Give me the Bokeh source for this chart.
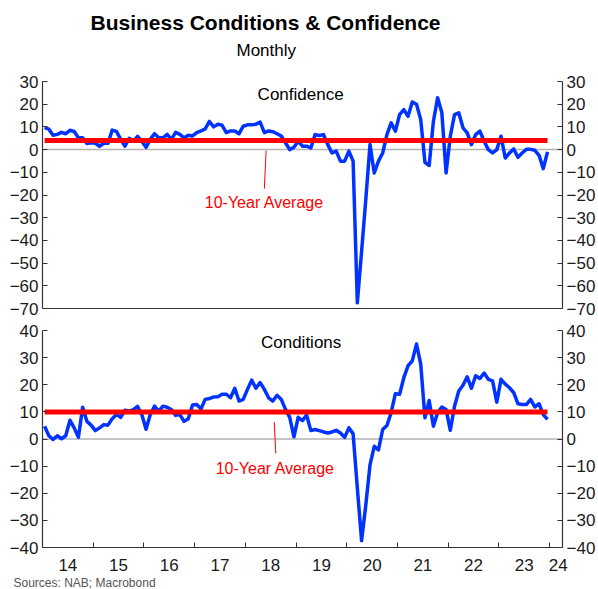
import pandas as pd
from bokeh.plotting import figure
from bokeh.models import Range1d, LinearAxis, FixedTicker, Span, Label, Title
from bokeh.layouts import column
from bokeh.embed import file_html
from bokeh.resources import INLINE

# ---------------- data ----------------
months = pd.date_range("2014-01-01", "2023-12-01", freq="MS")

confidence = [
    9.7, 9, 6.3, 6.7, 7.6, 7, 8.5, 8, 5.2, 5.2,
    2.7, 3, 2.8, 1.5, 2.8, 2.8, 8.6, 8, 4.5, 1.5,
    5, 3.7, 5.8, 3.7, 1, 4.5, 7, 5.2, 5.2, 6.7,
    4.5, 7.6, 6.7, 5.2, 6.3, 6, 7.5, 8.2, 9.1, 12.4,
    10, 11.2, 10.7, 7.5, 8.2, 8.2, 7, 10.3, 10.9, 10.9,
    11.2, 12.1, 7.5, 8.2, 7.9, 7, 6, 3, 0, 1,
    3.7, 1.5, 1.5, 0.7, 6.6, 6.2, 6.6, 2.2, -1.5, -0.7,
    -5.1, -5.1, -0.7, -5.1, -67.5, -45, -22, 2.2, -10.3, -5.1,
    -1.5, 6.6, 11.8, 8.1, 15.4, 17.6, 14.7, 21, 20, 13.2,
    -5.6, -7, 12.5, 22.8, 16.2, -10.3, 5.9, 15.4, 16.2, 9.6,
    7.4, 2.2, 6.6, 8.1, 3.7, 0, -1.5, 0, 5.9, -3.7,
    -1.5, 0.3, -3.4, -1.5, 0.1, 0.1, -0.3, -2.5, -8.4, -1,
]

conditions = [
    4.7, 1.2, -0.2, 1.2, 0.1, 1.2, 6.9, 4.1, 0.6, 11.7,
    6.5, 5.1, 3.1, 4.1, 5.3, 5.1, 7.5, 9, 8, 10.6,
    10.3, 10.8, 12, 9, 3.6, 9, 12.1, 10.3, 12.1, 11.7,
    10.9, 8.7, 9, 6.5, 7.5, 12.5, 12.7, 11.1, 14.6, 14.9,
    15.5, 15.6, 16.5, 16.5, 15.2, 18.7, 14, 14.6, 18.3, 21.7,
    18.7, 20.8, 18.3, 15.2, 14, 16.1, 14.6, 10.9, 8, 0.8,
    8, 6.8, 8.8, 3.1, 3.5, 3.1, 2.6, 2.2, 2.6, 3.2,
    2.2, 0.6, 4.1, 1.9, -18, -37.5, -24.4, -9.5, -2.7, -4,
    3.5, 5, 9.7, 16.7, 16.5, 22.6, 27, 28.8, 35, 27.6,
    7.8, 14.2, 4.7, 9.7, 11.8, 10.9, 3.2, 12.1, 17.7, 19.8,
    22.9, 18.7, 23.3, 22.3, 24.3, 22, 21.4, 13.6, 22, 20.2,
    18.9, 17.1, 13, 12.7, 12.7, 14.6, 11.8, 13, 9, 7.2,
]

confidence_avg = 4.0
conditions_avg = 10.0

year_labels = ["14", "15", "16", "17", "18", "19", "20", "21", "22", "23", "24"]
year_label_pos = [2014.5, 2015.5, 2016.5, 2017.5, 2018.5, 2019.5, 2020.5,
                  2021.5, 2022.5, 2023.5, 2024.17]
year_starts = [2015, 2016, 2017, 2018, 2019, 2020, 2021, 2022, 2023, 2024]

conf_ticks = [-70, -60, -50, -40, -30, -20, -10, 0, 10, 20, 30]
cond_ticks = [-40, -30, -20, -10, 0, 10, 20, 30, 40]

# ---------------- style ----------------
FONT = "Liberation Sans"
BLUE = "#0033ff"
RED = "#ff0000"
AXIS = "#333333"
TXT = "#1a1a1a"

x = [d.year + (d.month - 0.5) / 12 for d in months]
x_range = Range1d(2014.0, 2024.254)

W = 598


def style_y(ax):
    ax.axis_line_color = AXIS
    ax.axis_line_width = 1.2
    ax.major_tick_line_color = AXIS
    ax.major_tick_in = 5
    ax.major_tick_out = 0
    ax.minor_tick_in = 0
    ax.minor_tick_out = 0
    ax.major_label_text_font = FONT
    ax.major_label_text_font_size = "17px"
    ax.major_label_text_color = TXT
    ax.major_label_standoff = 4


def base_fig(height, y_range, ticks, top, bottom):
    p = figure(width=W, height=height, x_range=x_range, y_range=y_range,
               x_axis_type=None, y_axis_type=None, title=None,
               toolbar_location=None, output_backend="svg",
               min_border_left=42, min_border_right=31,
               min_border_top=top, min_border_bottom=bottom)
    p.outline_line_color = None
    p.xgrid.visible = False
    p.ygrid.visible = False
    p.background_fill_color = "white"
    p.border_fill_color = "white"
    for loc in ("left", "right"):
        ax = LinearAxis(ticker=FixedTicker(ticks=ticks))
        style_y(ax)
        p.add_layout(ax, loc)
    p.add_layout(Span(location=0, dimension="width", line_color="#b3b3b3",
                      line_width=1.5, level="underlay"))
    return p


# ---------------- top: Confidence ----------------
p1 = base_fig(319, Range1d(-70, 30), conf_ticks, 81, 11)
sub = Title(text="Monthly", align="left", offset=194, text_font=FONT,
            text_font_size="17px", text_font_style="normal", text_color="black",
            standoff=44)
p1.add_layout(sub, "above")
main = Title(text="Business Conditions & Confidence", align="left", offset=48,
             text_font=FONT, text_font_size="21px", text_font_style="bold",
             text_color="black", standoff=-35)
p1.add_layout(main, "above")

bx1 = LinearAxis(ticker=FixedTicker(ticks=[]))
bx1.axis_line_color = AXIS
bx1.axis_line_width = 1.2
bx1.major_label_text_font_size = "0px"
bx1.major_label_standoff = 0
p1.add_layout(bx1, "below")

p1.line(x, confidence, line_color=BLUE, line_width=3.5, line_join="round")
p1.line([x[0], x[-1]], [confidence_avg, confidence_avg], line_color=RED,
        line_width=5)
p1.add_layout(Label(x=2019.09, y=24.2, text="Confidence", text_align="center",
                    text_baseline="middle", text_font=FONT,
                    text_font_size="17px", text_color="black"))
p1.segment(x0=[2018.41], y0=[-0.4], x1=[2018.375], y1=[-17.2],
           line_color=RED, line_width=1)
p1.add_layout(Label(x=2018.375, y=-23.2, text="10-Year Average",
                    text_align="center", text_baseline="middle",
                    text_font=FONT, text_font_size="16px", text_color=RED))

# ---------------- bottom: Conditions ----------------
p2 = base_fig(270, Range1d(-40, 40), cond_ticks, 11, 42)
bx2 = LinearAxis(ticker=FixedTicker(ticks=year_label_pos,
                                    minor_ticks=year_starts))
bx2.axis_line_color = AXIS
bx2.axis_line_width = 1.2
bx2.major_tick_in = 0
bx2.major_tick_out = 0
bx2.minor_tick_in = 5
bx2.minor_tick_out = 0
bx2.minor_tick_line_color = AXIS
bx2.major_label_text_font = FONT
bx2.major_label_text_font_size = "17px"
bx2.major_label_text_color = TXT
bx2.major_label_standoff = 11
bx2.major_label_overrides = {pos: lab for pos, lab in zip(year_label_pos, year_labels)}
p2.add_layout(bx2, "below")

src = Title(text="Sources: NAB; Macrobond", align="left", offset=-29,
            text_font=FONT, text_font_size="12px", text_font_style="normal",
            text_color="#555555", standoff=0)
p2.add_layout(src, "below")

p2.line(x, conditions, line_color=BLUE, line_width=3.5, line_join="round")
p2.line([x[0], x[-1]], [conditions_avg, conditions_avg], line_color=RED,
        line_width=5)
p2.add_layout(Label(x=2019.1, y=35.7, text="Conditions", text_align="center",
                    text_baseline="middle", text_font=FONT,
                    text_font_size="17px", text_color="black"))
p2.segment(x0=[2018.57], y0=[6.2], x1=[2018.6], y1=[-5.3],
           line_color=RED, line_width=1)
p2.add_layout(Label(x=2018.59, y=-10.8, text="10-Year Average",
                    text_align="center", text_baseline="middle",
                    text_font=FONT, text_font_size="16px", text_color=RED))

layout = column(p1, p2, spacing=0)

with open("out.html", "w") as f:
    f.write(file_html(layout, INLINE))
